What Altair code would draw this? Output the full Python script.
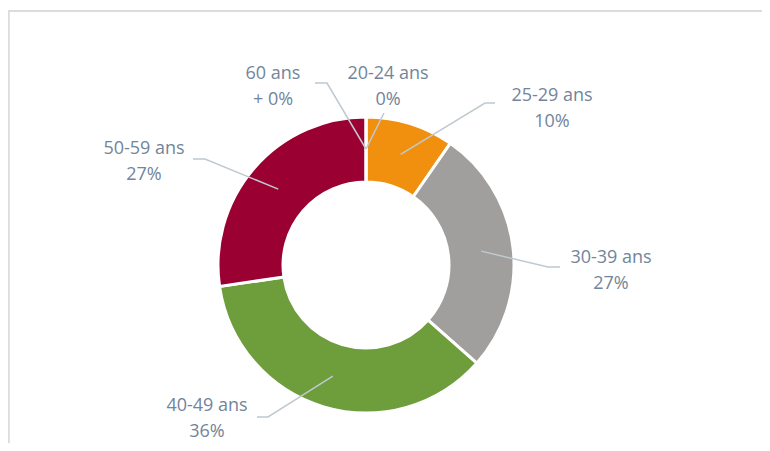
import math
import altair as alt
import pandas as pd

# ---- data ----
categories = ["20-24 ans", "25-29 ans", "30-39 ans", "40-49 ans", "50-59 ans", "60 ans +"]
values = [0.0, 9.6, 26.8, 36.0, 27.2, 0.0]
label_line1 = ["20-24 ans", "25-29 ans", "30-39 ans", "40-49 ans", "50-59 ans", "60 ans"]
label_line2 = ["0%", "10%", "27%", "36%", "27%", "+ 0%"]
colors = ["#F0900E", "#F0900E", "#A09F9D", "#6E9D3C", "#9B0033", "#9B0033"]

# ---- layout (pixel offsets from the donut centre, y up) ----
W, H = 754, 435
CX, CY = 358, 257
R_OUT, R_IN = 148, 83
R_MID = 116
label_x = [22, 186, 245, -159, -222, -93]
label_y = [191, 169, 7, -141, 116, 191]   # first text line
# leader line start / elbow points (None = straight line)
lead_start = [(18, 152), (129, 162), (194, -2), (-109, -152), (-173, 106), (-51, 182)]
lead_elbow = [None, (119, 162), (182, -2), (-98, -152), (-161, 106), (-39, 182)]

total = sum(values)
cum = 0.0
arc_rows, lab_rows, lead_rows = [], [], []
for i, c in enumerate(categories):
    v = values[i]
    mid = (cum + v / 2) / total * 2 * math.pi
    if i == len(categories) - 1 and v == 0:
        mid = 2 * math.pi
    cum += v
    arc_rows.append({"cat": c, "value": v, "idx": i})
    lab_rows.append({"cat": c, "x": label_x[i], "y": label_y[i],
                     "text": label_line1[i] + "\n" + label_line2[i]})
    pts = [lead_start[i]]
    if lead_elbow[i] is not None:
        pts.append(lead_elbow[i])
    pts.append((R_MID * math.sin(mid), R_MID * math.cos(mid)))
    for k, (px, py) in enumerate(pts):
        lead_rows.append({"cat": c, "k": k, "x": px, "y": py})

arcs = pd.DataFrame(arc_rows)
labs = pd.DataFrame(lab_rows)
leads = pd.DataFrame(lead_rows)

xs = alt.Scale(domain=[-CX, W - CX], nice=False, zero=False)
ys = alt.Scale(domain=[-(H - CY), CY], nice=False, zero=False)

donut = alt.Chart(arcs).mark_arc(outerRadius=R_OUT, innerRadius=R_IN,
                                 stroke="white", strokeWidth=3).encode(
    theta=alt.Theta("value:Q", stack=True),
    order=alt.Order("idx:Q"),
    color=alt.Color("cat:N", scale=alt.Scale(domain=categories, range=colors), legend=None),
    x=alt.datum(0, scale=xs, axis=None),
    y=alt.datum(0, scale=ys, axis=None),
)

lines = alt.Chart(leads).mark_line(color="#BFC9D0", strokeWidth=1.5).encode(
    x=alt.X("x:Q", scale=xs, axis=None),
    y=alt.Y("y:Q", scale=ys, axis=None),
    detail="cat:N",
    order="k:Q",
)

texts = alt.Chart(labs).mark_text(font="Open Sans", fontSize=18, color="#72859A",
                                  lineBreak="\n", lineHeight=26,
                                  align="center", baseline="middle").encode(
    x=alt.X("x:Q", scale=xs, axis=None),
    y=alt.Y("y:Q", scale=ys, axis=None),
    text="text:N",
)

frame_top = alt.Chart(labs).mark_rule(color="#D9DDDD", strokeWidth=1.5).encode(
    x=alt.value(0), x2=alt.value(W), y=alt.value(3))
frame_left = alt.Chart(labs).mark_rule(color="#D9DDDD", strokeWidth=1.5).encode(
    x=alt.value(0.5), y=alt.value(3), y2=alt.value(H))

chart = alt.layer(frame_top, frame_left, donut, lines, texts).properties(
    width=W, height=H, autosize=alt.AutoSizeParams(type="none"), padding=0
).configure_view(stroke=None)

chart.save("out.html", embed_options={"renderer": "svg", "actions": False})
